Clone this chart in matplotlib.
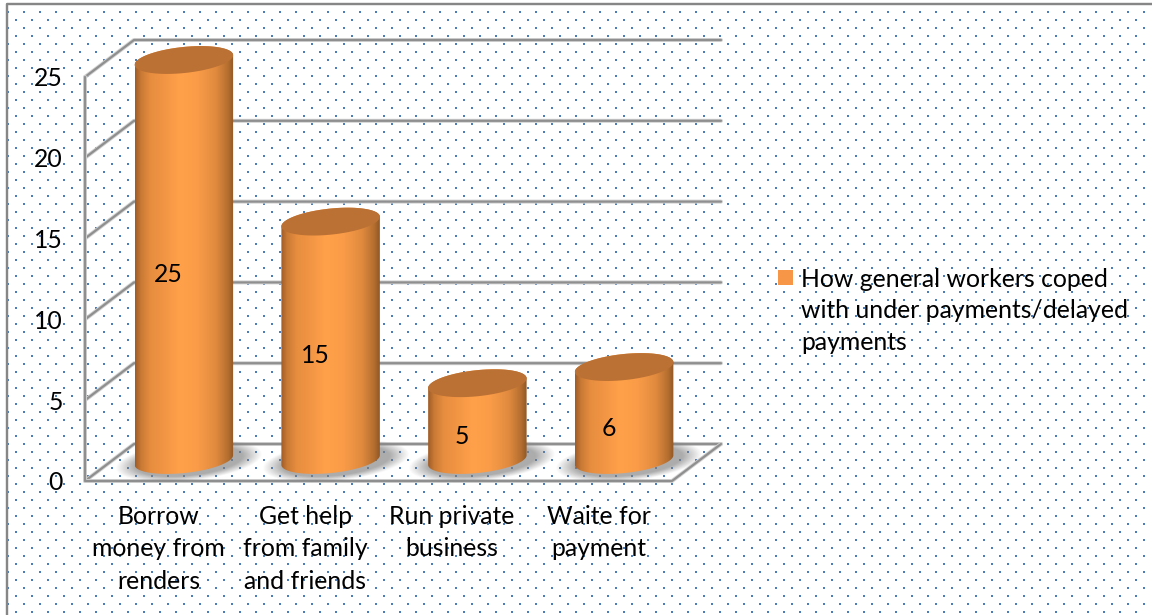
import matplotlib
matplotlib.use('Agg')
import matplotlib.pyplot as plt
import numpy as np
from matplotlib.colors import LinearSegmentedColormap
from matplotlib.patches import PathPatch, Rectangle
from matplotlib.path import Path
from matplotlib.transforms import IdentityTransform

categories = ['Borrow\nmoney from\nrenders', 'Get help\nfrom family\nand friends',
              'Run private\nbusiness', 'Waite for\npayment']
values = [25, 15, 5, 6]
y_ticks = [0, 5, 10, 15, 20, 25]
series_label = 'How general workers coped\nwith under payments/delayed\npayments'

W, H = 1152, 615
PX = 0.72  # points per pixel at dpi 100
DEPTH = np.array([49, 37])
BASE_SHIFT = np.array([25.5, 21])
TOP_SHIFT = np.array([25.5, 17])
RX, RY, TILT = 49.5, 13, np.deg2rad(6)
FONT = 'Lato'
FONT_SIZE = 17.8

body_cmap = LinearSegmentedColormap.from_list('body', [
    (0.0, '#a05c26'), (0.06, '#c97a35'), (0.16, '#e78d3f'), (0.45, '#ffa04a'),
    (0.62, '#fb9d48'), (0.82, '#e08a3f'), (0.94, '#b56f30'), (1.0, '#8f5726')])

plt.rcParams['font.family'] = [FONT, 'DejaVu Sans']
fig = plt.figure(figsize=(W / 100, H / 100), dpi=100, facecolor='white')


def px_axes(left, top, right, bottom):
    return fig.add_axes([left / W, 1 - bottom / H, (right - left) / W, (bottom - top) / H])


# dotted page background and the frame on the left and top
bg = fig.add_axes([0, 0, 1, 1], zorder=0)
bg.set_xlim(0, W)
bg.set_ylim(H, 0)
bg.axis('off')
for k, row in enumerate(np.arange(4, H, 8)):
    xs = np.arange(16 if k % 2 == 0 else 8, W, 16)
    bg.plot(xs, np.full(len(xs), row), ls='', marker='s', ms=2.6 * PX, mew=0, color='#4a7ebb')
bg.plot([7, 7, W], [H, 4, 4], color='#868686', lw=2.4 * PX)

ax = px_axes(85, 77, 672, 481)
ax.set_zorder(1)
ax.patch.set_alpha(0)
ax.set_xlim(-0.5, len(categories) - 0.5)
ax.set_ylim(0, 25)
for s in ax.spines.values():
    s.set_visible(False)
ax.set_xticks(range(len(categories)), categories)
ax.set_yticks(y_ticks)
ax.tick_params(length=0, labelsize=FONT_SIZE)
ax.tick_params(axis='x', pad=17)
ax.tick_params(axis='y', pad=16)
for lab in ax.get_xticklabels():
    lab.set_linespacing(1.5)

identity = IdentityTransform()


def wall_line(xs, ys):
    for lw, col in ((4, '#d2d2d2'), (2.2, '#8f8f8f')):
        ax.plot(xs, ys, color=col, lw=lw * PX, transform=identity, clip_on=False,
                solid_capstyle='round', zorder=2)


x0, x1 = ax.get_xlim()
for t in y_ticks:
    left = ax.transData.transform((x0, t))
    back_l = left + DEPTH
    back_r = ax.transData.transform((x1, t)) + DEPTH
    wall_line([left[0], back_l[0], back_r[0]], [left[1], back_l[1], back_r[1]])

# front edges of the chart box
low_l = ax.transData.transform((x0, 0))
low_r = ax.transData.transform((x1, 0))
top_l = ax.transData.transform((x0, 25))
wall_line([top_l[0], low_l[0], low_r[0], low_r[0] + DEPTH[0]],
          [top_l[1], low_l[1], low_r[1], low_r[1] + DEPTH[1]])


def ellipse(center, t):
    ex, ey = RX * np.cos(t), RY * np.sin(t)
    return np.column_stack([center[0] + ex * np.cos(TILT) - ey * np.sin(TILT),
                            center[1] + ex * np.sin(TILT) + ey * np.cos(TILT)])


def add_image(data, extent, z, clip=None, **kw):
    im = ax.imshow(data, extent=extent, transform=identity, aspect='auto', zorder=z,
                   interpolation='bilinear', **kw)
    im.set_clip_box(fig.bbox)
    if clip is not None:
        clip.set_visible(False)
        im.set_clip_path(clip)
    return im


for i, v in enumerate(values):
    base = ax.transData.transform((i, 0)) + BASE_SHIFT
    top = ax.transData.transform((i, v)) + TOP_SHIFT

    # soft floor shadow
    sx, sy = base[0] + 5, base[1] - 1
    gx, gy = np.meshgrid(np.linspace(sx - 84, sx + 84, 170), np.linspace(sy + 28, sy - 28, 60))
    rx = (gx - sx) * np.cos(TILT) + (gy - sy) * np.sin(TILT)
    ry = -(gx - sx) * np.sin(TILT) + (gy - sy) * np.cos(TILT)
    d = np.sqrt((rx / 66) ** 2 + (ry / 18) ** 2)
    shadow = np.zeros(d.shape + (4,))
    shadow[..., :3] = 0.5
    shadow[..., 3] = 0.65 * np.clip((1.12 - d) / 0.3, 0, 1)
    add_image(shadow, (sx - 84, sx + 84, sy - 28, sy + 28), 3)

    # cylinder body with horizontal shading
    lower = np.linspace(np.pi, 2 * np.pi, 60)
    upper = np.linspace(0, np.pi, 60)
    outline = np.vstack([ellipse(base, lower), ellipse(top, upper)])
    body = PathPatch(Path(np.vstack([outline, outline[0]]), closed=True), transform=identity,
                     fc='none', ec='none')
    ax.add_patch(body)
    xs = outline[:, 0]
    add_image(np.linspace(0, 1, 256)[None, :], (xs.min(), xs.max(), base[1] - 30, top[1] + 30),
              4, clip=body, cmap=body_cmap, vmin=0, vmax=1)

    # cap
    all_t = np.linspace(0, 2 * np.pi, 120)
    ax.fill(*ellipse(top, all_t).T, color='#bb7133', ec='none', transform=identity,
            clip_on=False, zorder=5)

    ax.annotate(str(v), (i, v / 2), xytext=(10 * PX, 4 * PX), textcoords='offset points',
                ha='center', va='center', fontsize=FONT_SIZE, color='black', zorder=6)

ax.set_xlim(x0, x1)
ax.set_ylim(0, 25)

# series key
fig.add_artist(Rectangle((778 / W, 1 - 285 / H), 15 / W, 15 / H, transform=fig.transFigure,
                         fc='#f79646', ec='none', zorder=3))
fig.text(801 / W, 1 - 311 / H, series_label, ha='left', va='center', fontsize=FONT_SIZE,
         linespacing=1.47, color='black', zorder=3)

fig.savefig('out.png', dpi=100)
